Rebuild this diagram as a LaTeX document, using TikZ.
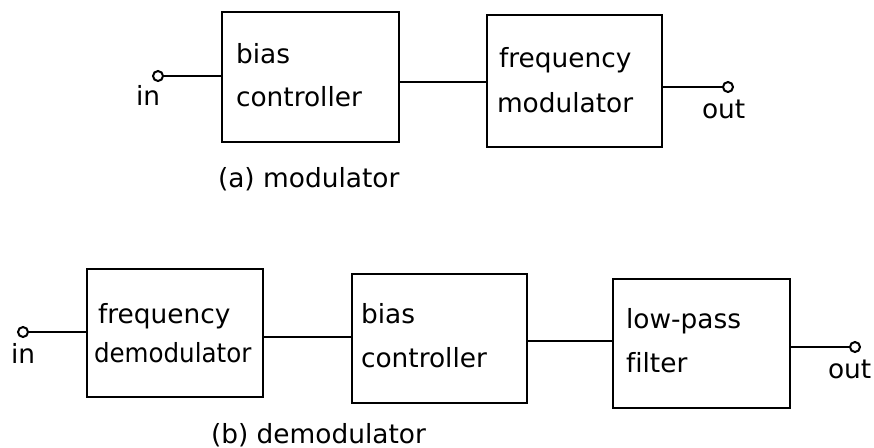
\documentclass[tikz,border=0pt]{standalone}
\usepackage{graphicx}
\usepackage{fontspec}
\setmainfont{DejaVu Sans}[Ligatures=CommonOff]
\usetikzlibrary{fit}
\begin{document}
\begin{tikzpicture}[x=0.5pt,y=-0.5pt,line width=1pt,
  blk/.style={draw,rectangle,inner sep=0pt,fit=#1},
  term/.style={draw,circle,inner sep=0pt,minimum size=5pt,fill=white},
  txt/.style={anchor=base west,inner sep=0pt,font=\fontsize{13.2pt}{16pt}\selectfont}]
\useasboundingbox (0,0) rectangle (874,447);
% ---- (a) modulator ----
\coordinate (a1p) at (222,12); \coordinate (a1q) at (399,142);
\node[blk=(a1p)(a1q)] (A1) {};
\coordinate (a2p) at (487,15); \coordinate (a2q) at (662,147);
\node[blk=(a2p)(a2q)] (A2) {};
\node[term] (inA) at (158,76) {};
\node[term] (outA) at (728,87) {};
\coordinate (la12) at (0,81.5);
\draw (inA.east) -- (inA.east -| A1.west);
\draw (A1.east |- la12) -- (A2.west |- la12);
\draw (A2.east |- outA) -- (outA.west);
\node[txt] (inAt) at (135,105) {in};
\node[txt] (outAt) at (701,118) {out};
\node[txt] (A1a) at (235,63) {bias};
\node[txt] (A1b) at (235,106) {controller};
\node[txt] (A2a) at (498,67) {frequency};
\node[txt] (A2b) at (496,112) {modulator};
\node[txt] (capA) at (217,187) {(a) modulator};
% ---- (b) demodulator ----
\coordinate (b1p) at (87,269); \coordinate (b1q) at (263,397);
\node[blk=(b1p)(b1q)] (B1) {};
\coordinate (b2p) at (352,274); \coordinate (b2q) at (527,403);
\node[blk=(b2p)(b2q)] (B2) {};
\coordinate (b3p) at (613,279); \coordinate (b3q) at (790,408);
\node[blk=(b3p)(b3q)] (B3) {};
\node[term] (inB) at (23,332) {};
\node[term] (outB) at (855,347) {};
\coordinate (lb12) at (0,336.5);
\coordinate (lb23) at (0,341);
\draw (inB.east) -- (inB.east -| B1.west);
\draw (B1.east |- lb12) -- (B2.west |- lb12);
\draw (B2.east |- lb23) -- (B3.west |- lb23);
\draw (B3.east |- outB) -- (outB.west);
\node[txt] (inBt) at (10,363) {in};
\node[txt] (outBt) at (827,378) {out};
\node[txt] (B1a) at (97,323) {frequency};
\node[txt] (B1b) at (93,362) {\scalebox{0.93}[1]{demodulator}};
\node[txt] (B2a) at (360,323) {bias};
\node[txt] (B2b) at (360,367) {controller};
\node[txt] (B3a) at (625,328) {low-pass};
\node[txt] (B3b) at (625,372) {filter};
\node[txt] (capB) at (210,443) {(b) demodulator};
\end{tikzpicture}
\end{document}
